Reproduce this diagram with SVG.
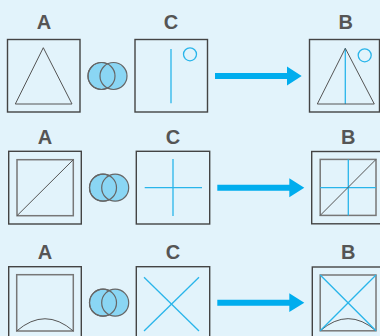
<svg xmlns="http://www.w3.org/2000/svg" width="380" height="336" viewBox="0 0 380 336">
<defs>
<style>
.bg{fill:#e2f3fb}
.lbl{font-family:"Liberation Sans",Arial,sans-serif;font-weight:bold;font-size:20px;fill:#555;text-anchor:middle}
.box{fill:none;stroke:#444;stroke-width:1.4}
.inner{fill:none;stroke:#777;stroke-width:1.5}
.shape{fill:none;stroke:#555;stroke-width:1}
.blue{fill:none;stroke:#29b5ea;stroke-width:1.3}
.venn{fill:#8ad6f4;stroke:#666;stroke-width:1.2}
.vennl{fill:none;stroke:#666;stroke-width:1.2}
.arrow{fill:#00adee}
</style>
</defs>
<rect class="bg" x="0" y="0" width="380" height="336"/>

<g id="row1-A">
<text class="lbl" x="44" y="29">A</text>
<rect class="box" x="7.5" y="39.5" width="72.5" height="72.5"/>
<polygon class="shape" points="43.3,47.7 15.3,104 72,104"/>
</g>
<g id="row1-venn">
<circle class="venn" cx="101.5" cy="76" r="13.5"/>
<circle class="venn" cx="113.5" cy="76" r="13.5"/>
<circle class="vennl" cx="101.5" cy="76" r="13.5"/>
</g>
<g id="row1-C">
<text class="lbl" x="171" y="29">C</text>
<rect class="box" x="135" y="39.5" width="72.5" height="72.5"/>
<line class="blue" x1="171" y1="49" x2="171" y2="103.3"/>
<circle class="blue" cx="190" cy="54.3" r="6.5"/>
</g>
<g id="row1-B">
<text class="lbl" x="345.7" y="29">B</text>
<rect class="box" x="309.5" y="39.5" width="70" height="72.5"/>
<line class="blue" x1="345.3" y1="48.3" x2="345.3" y2="104"/>
<polygon class="shape" points="345.3,48.3 317.3,104 374.3,104"/>
<circle class="blue" cx="364.7" cy="55.3" r="6.5"/>
</g>

<g id="row2-A">
<text class="lbl" x="45" y="144">A</text>
<rect class="box" x="8.7" y="151.3" width="72.6" height="72.7"/>
<rect class="inner" x="17" y="159.7" width="56.3" height="56"/>
<line class="shape" x1="17" y1="215.7" x2="73.3" y2="159.7"/>
</g>
<g id="row2-venn">
<circle class="venn" cx="103" cy="187.7" r="13.5"/>
<circle class="venn" cx="115.2" cy="187.7" r="13.5"/>
<circle class="vennl" cx="103" cy="187.7" r="13.5"/>
</g>
<g id="row2-C">
<text class="lbl" x="173" y="144">C</text>
<rect class="box" x="136.3" y="151.3" width="73.4" height="72.7"/>
<line class="blue" x1="144.7" y1="187.7" x2="202" y2="187.7"/>
<line class="blue" x1="173" y1="159" x2="173" y2="216"/>
</g>
<g id="row2-B">
<text class="lbl" x="348.3" y="143.7">B</text>
<rect class="box" x="311.7" y="151.5" width="73" height="72.3"/>
<rect class="inner" x="320.2" y="159.4" width="55.8" height="56"/>
<line class="blue" x1="320.2" y1="187.7" x2="376" y2="187.7"/>
<line class="blue" x1="348.3" y1="159.4" x2="348.3" y2="215.4"/>
<line class="shape" x1="320.2" y1="215.4" x2="376" y2="159.4"/>
</g>

<g id="row3-A">
<text class="lbl" x="45" y="259.3">A</text>
<rect class="box" x="8.7" y="266.7" width="72.6" height="72.7"/>
<rect class="inner" x="16.7" y="274.7" width="56.6" height="56.3"/>
<path class="shape" d="M16.7,331 Q45,306.5 73.3,331"/>
</g>
<g id="row3-venn">
<circle class="venn" cx="103" cy="302.7" r="13.5"/>
<circle class="venn" cx="115.2" cy="302.7" r="13.5"/>
<circle class="vennl" cx="103" cy="302.7" r="13.5"/>
</g>
<g id="row3-C">
<text class="lbl" x="173" y="259.3">C</text>
<rect class="box" x="136.3" y="266.7" width="73.4" height="72.7"/>
<line class="blue" x1="144" y1="277.3" x2="199" y2="331"/>
<line class="blue" x1="199" y1="277.3" x2="144" y2="331"/>
</g>
<g id="row3-B">
<text class="lbl" x="348.3" y="259.3">B</text>
<rect class="box" x="312.3" y="267" width="73" height="72.7"/>
<rect class="inner" x="320.2" y="275" width="55.8" height="55.8"/>
<path class="shape" d="M320.2,330.8 Q348.1,306.5 376,330.8"/>
<line class="blue" x1="320.2" y1="275" x2="376" y2="330.8"/>
<line class="blue" x1="376" y1="275" x2="320.2" y2="330.8"/>
</g>

<g id="connectors">
<polygon class="arrow" points="215,73 287,73 287,66.5 301.7,76 287,85.5 287,79 215,79"/>
<polygon class="arrow" points="217.3,184.7 289.3,184.7 289.3,178.3 304.3,187.7 289.3,197.3 289.3,190.7 217.3,190.7"/>
<polygon class="arrow" points="217.3,299.7 289.3,299.7 289.3,293.3 304.3,302.7 289.3,312 289.3,305.7 217.3,305.7"/>
</g>
</svg>
